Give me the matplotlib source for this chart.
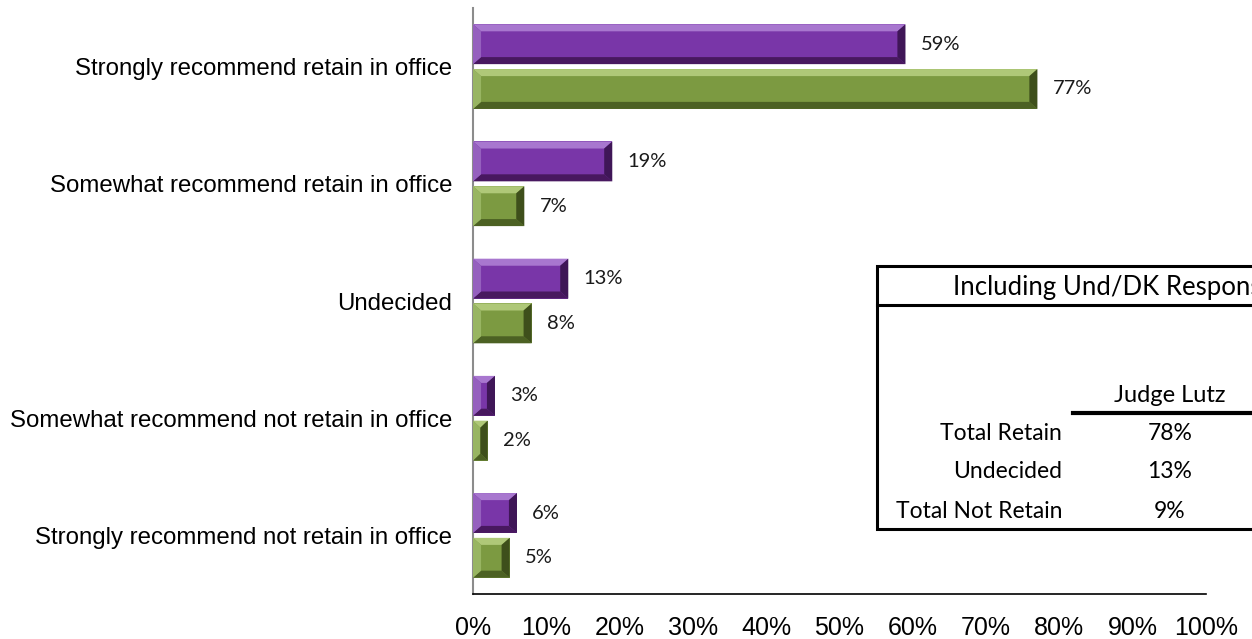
import matplotlib
matplotlib.use('Agg')
import matplotlib.pyplot as plt
from matplotlib.patches import Polygon, Rectangle

# Data
categories = [
    'Strongly recommend retain in office',
    'Somewhat recommend retain in office',
    'Undecided',
    'Somewhat recommend not retain in office',
    'Strongly recommend not retain in office',
]
series_a = [59, 19, 13, 3, 6]   # purple
series_b = [77, 7, 8, 2, 5]     # green
xticks = [0, 10, 20, 30, 40, 50, 60, 70, 80, 90, 100]

table_title = 'Including Und/DK Responses'
table_col = 'Judge Lutz'
table_rows = ['Total Retain', 'Undecided', 'Total Not Retain']
table_vals = ['78%', '13%', '9%']

W, H = 1252, 639
fig = plt.figure(figsize=(W / 100, H / 100), dpi=100)

# main chart axes (pixel box: x 473..1206, y 8..594)
ax = fig.add_axes([473 / W, 1 - 594 / H, (1206 - 473) / W, (594 - 8) / H])
ax.set_xlim(0, 100)
ax.set_ylim(len(categories) - 0.5, -0.5)

bar_h = 0.34
off = 0.191

purple = dict(face='#7936A8', top='#A877CF', bot='#48185F', left='#9560BE', right='#3F1657')
green = dict(face='#7C9A41', top='#AFC878', bot='#4C6123', left='#98B562', right='#3E4F1B')


def bevel_bar(y, v, c):
    ax.barh(y, v, height=bar_h, color=c['face'], edgecolor='none', zorder=2)
    x0, x1 = 0, v
    yt, yb = y - bar_h / 2, y + bar_h / 2
    dx = min(1.1, v / 2)
    dy = 0.06
    polys = [
        ([(x0, yt), (x1, yt), (x1 - dx, yt + dy), (x0 + dx, yt + dy)], c['top']),
        ([(x0, yb), (x1, yb), (x1 - dx, yb - dy), (x0 + dx, yb - dy)], c['bot']),
        ([(x0, yt), (x0 + dx, yt + dy), (x0 + dx, yb - dy), (x0, yb)], c['left']),
        ([(x1, yt), (x1 - dx, yt + dy), (x1 - dx, yb - dy), (x1, yb)], c['right']),
    ]
    for pts, col in polys:
        ax.add_patch(Polygon(pts, closed=True, facecolor=col, edgecolor='none', zorder=3))
    ax.annotate(f'{v}%', (v, y), xytext=(11, 0), textcoords='offset points',
                va='center', ha='left', fontsize=14.5, family=['Lato', 'DejaVu Sans'],
                color='#1a1a1a')


for i in range(len(categories)):
    bevel_bar(i - off, series_a[i], purple)
    bevel_bar(i + off, series_b[i], green)

ax.set_yticks(range(len(categories)))
ax.set_yticklabels(categories, fontsize=17.3, family='Liberation Sans')
ax.set_xticks(xticks)
ax.set_xticklabels([f'{t}%' for t in xticks], fontsize=18, family='Liberation Sans')
ax.tick_params(axis='y', length=0, pad=15)
ax.tick_params(axis='x', length=0, pad=16)

for s in ['top', 'right']:
    ax.spines[s].set_visible(False)
ax.spines['left'].set_color('#8c8c8c')
ax.spines['left'].set_linewidth(1.5)
ax.spines['bottom'].set_color('#000000')
ax.spines['bottom'].set_linewidth(1.2)

# summary table overlay (pixel coordinates)
tx = fig.add_axes([0, 0, 1, 1])
tx.set_xlim(0, W)
tx.set_ylim(H, 0)
tx.axis('off')
tx.patch.set_alpha(0)

tx.add_patch(Rectangle((877, 266), 450, 263, facecolor='white', edgecolor='black',
                       linewidth=2.2, zorder=1))
tx.plot([877, 1300], [305, 305], color='black', linewidth=2.2)
tx.plot([1073, 1300], [413, 413], color='black', linewidth=3)

tfont = ['Lato', 'DejaVu Sans']
tx.text(953, 287, table_title, ha='left', va='center', fontsize=18.5, family=tfont)
tx.text(1170, 395, table_col, ha='center', va='center', fontsize=17, family=tfont)
row_y = [434, 472, 511]
for r, v, yy in zip(table_rows, table_vals, row_y):
    tx.text(1062, yy, r, ha='right', va='center', fontsize=16.5, family=tfont)
    tx.text(1170, yy, v, ha='center', va='center', fontsize=16.5, family=tfont)

plt.savefig('out.png', dpi=100)
